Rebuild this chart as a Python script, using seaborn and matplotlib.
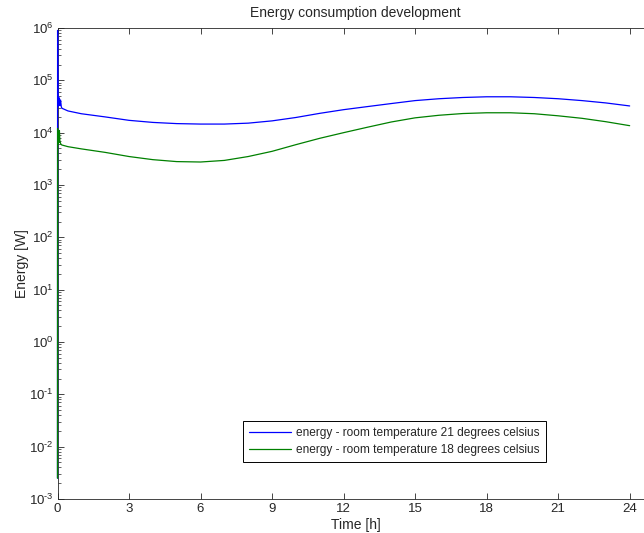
import numpy as np
import pandas as pd
import matplotlib
matplotlib.use("Agg")
import matplotlib.pyplot as plt
import matplotlib.ticker as mticker
import seaborn as sns

# time axis [h] and energy values [W]
time_h = [0.0, 0.004, 0.02, 0.04, 0.06, 0.08, 0.1, 0.13, 0.16, 0.19, 0.44, 1, 2, 3, 4, 5, 6, 7, 8,
          9, 10, 11, 12, 13, 14, 15, 16, 17, 18, 19, 20, 21, 22, 23, 24]
energy_21 = [0.0025, 9.0e5, 3.2e4, 4.8e4, 3.4e4, 4.6e4, 3.3e4, 4.2e4, 3.1e4, 2.92e4, 2.6e4, 2.3e4, 2.0e4,
             1.72e4, 1.57e4, 1.49e4, 1.46e4, 1.46e4, 1.52e4, 1.68e4, 1.95e4, 2.34e4, 2.75e4, 3.15e4,
             3.6e4, 4.1e4, 4.45e4, 4.7e4, 4.85e4, 4.85e4, 4.7e4, 4.45e4, 4.1e4, 3.7e4, 3.24e4]
energy_18 = [0.0025, 1.2e4, 6.0e3, 1.05e4, 6.5e3, 1.1e4, 7.0e3, 6.2e3, 5.9e3, 5.8e3, 5.4e3, 4.9e3, 4.2e3,
             3.5e3, 3.05e3, 2.8e3, 2.75e3, 2.95e3, 3.5e3, 4.4e3, 5.9e3, 7.8e3, 1.0e4, 1.27e4, 1.6e4,
             1.92e4, 2.15e4, 2.32e4, 2.4e4, 2.4e4, 2.3e4, 2.1e4, 1.88e4, 1.62e4, 1.36e4]
labels = ["energy - room temperature 21 degrees celsius",
          "energy - room temperature 18 degrees celsius"]

df = pd.concat([
    pd.DataFrame({"Time": time_h, "Energy": energy_21, "serie": labels[0]}),
    pd.DataFrame({"Time": time_h, "Energy": energy_18, "serie": labels[1]}),
], ignore_index=True)

sns.set_theme(style="ticks", rc={
    "axes.linewidth": 0.6,
    "xtick.direction": "in",
    "ytick.direction": "in",
    "xtick.top": True,
    "xtick.major.size": 4,
    "ytick.major.size": 4,
    "ytick.minor.size": 2.2,
    "xtick.major.width": 0.6,
    "ytick.major.width": 0.6,
    "ytick.minor.width": 0.5,
    "axes.unicode_minus": False,
})
plt.rcParams["font.family"] = ["Liberation Sans", "DejaVu Sans"]
plt.rcParams["mathtext.fontset"] = "custom"
plt.rcParams["mathtext.rm"] = "Liberation Sans"
plt.rcParams["mathtext.it"] = "Liberation Sans"

fig = plt.figure(figsize=(6.44, 5.33), dpi=100)
ax = fig.add_axes([57.5 / 644, 1 - 499 / 533, 596 / 644, 471 / 533])

sns.lineplot(data=df, x="Time", y="Energy", hue="serie", sort=False,
             palette={labels[0]: "#0000ff", labels[1]: "#008000"},
             linewidth=0.9, ax=ax, legend=False)
for ln in ax.lines:
    ln.set_zorder(3)
    ln.set_clip_on(False)


def pow10(v, pos):
    e = int(round(np.log10(v)))
    if e < 0:
        return r"$10^{\text{-}%d}$" % (-e)
    return r"$10^{%d}$" % e


ax.set_yscale("log")
ax.set_ylim(1e-3, 1e6)
ax.set_xlim(0, 25)
ax.set_xticks(np.arange(0, 25, 3))
ax.yaxis.set_major_locator(mticker.LogLocator(base=10, numticks=20))
ax.yaxis.set_major_formatter(mticker.FuncFormatter(pow10))
ax.yaxis.set_minor_locator(mticker.LogLocator(base=10, subs=np.arange(2, 10), numticks=20))
ax.yaxis.set_minor_formatter(mticker.NullFormatter())
ax.yaxis.get_offset_text().set_visible(False)
ax.xaxis.get_offset_text().set_visible(False)
ax.tick_params(labelsize=9.5, pad=3)
ax.spines["right"].set_visible(False)

ax.set_xlabel("Time [h]", fontsize=10, labelpad=2.2)
ax.set_ylabel("Energy [W]", fontsize=10, labelpad=0)
ax.set_title("Energy consumption development", fontsize=10, pad=8)

handles = [plt.Line2D([], [], color="#0000ff", lw=0.9),
           plt.Line2D([], [], color="#008000", lw=0.9)]
leg = ax.legend(handles, labels, loc="lower left",
                bbox_to_anchor=(243 / 644, 1 - 462 / 533), bbox_transform=fig.transFigure,
                fontsize=8.6, frameon=True, fancybox=False, handlelength=3.5,
                handletextpad=0.45, borderpad=0.5, labelspacing=0.4, borderaxespad=0)
leg.get_frame().set_edgecolor("black")
leg.get_frame().set_linewidth(0.7)
leg.get_frame().set_alpha(1)

fig.savefig("out.png", dpi=100)
